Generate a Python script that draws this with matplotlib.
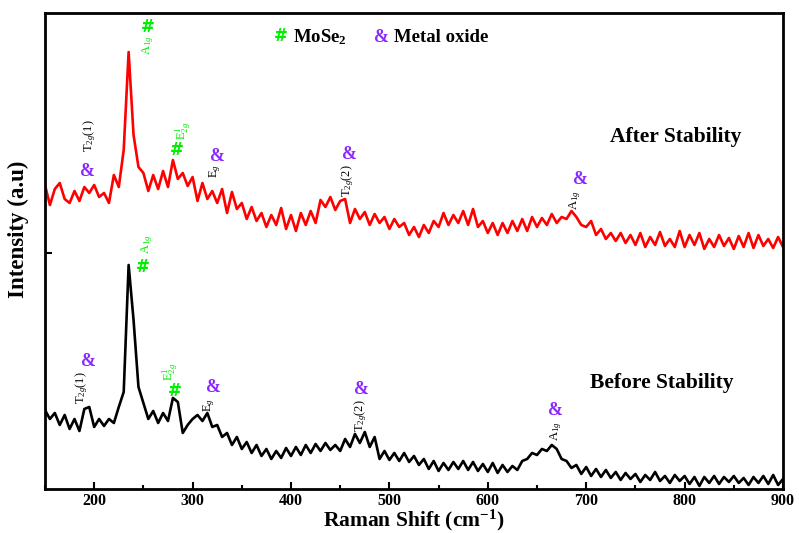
import numpy as np
import matplotlib
matplotlib.use("Agg")
import matplotlib.pyplot as plt
from matplotlib.ticker import MultipleLocator

plt.rcParams['font.family'] = ['Liberation Serif', 'DejaVu Serif']
plt.rcParams['mathtext.fontset'] = 'custom'
plt.rcParams['mathtext.rm'] = 'Liberation Serif'
plt.rcParams['mathtext.it'] = 'Liberation Serif:italic'
plt.rcParams['mathtext.bf'] = 'Liberation Serif:bold'

# Raman shift grid (cm-1), 5 cm-1 step
shift = np.arange(150, 901, 5)

# after stability (red), arbitrary units
after = [304, 284, 300, 306, 290, 286, 298, 288, 302, 296,
         304, 292, 296, 286, 314, 302, 339, 437, 354, 322,
         316, 298, 314, 300, 318, 302, 329, 310, 316, 303,
         312, 288, 306, 290, 298, 286, 300, 276, 297, 280,
         286, 270, 282, 268, 276, 262, 274, 264, 281, 260,
         274, 258, 276, 264, 278, 266, 289, 282, 292, 279,
         288, 290, 266, 280, 270, 277, 264, 275, 266, 272,
         260, 270, 262, 266, 254, 262, 252, 264, 256, 268,
         262, 276, 264, 274, 266, 278, 264, 280, 262, 268,
         256, 266, 254, 266, 256, 268, 258, 270, 258, 272,
         262, 271, 264, 275, 266, 272, 270, 278, 272, 264,
         262, 268, 254, 260, 250, 256, 248, 256, 246, 254,
         244, 256, 242, 252, 244, 257, 243, 250, 242, 258,
         242, 254, 244, 256, 240, 250, 242, 254, 243, 251,
         240, 253, 242, 256, 241, 254, 243, 250, 241, 252,
         242]

# before stability (black)
before = [79, 70, 76, 64, 74, 60, 70, 58, 80, 82,
          62, 70, 63, 70, 66, 82, 97, 224, 169, 102,
          86, 70, 78, 66, 76, 68, 91, 87, 56, 64,
          70, 74, 68, 76, 62, 64, 52, 56, 44, 52,
          40, 47, 36, 44, 33, 40, 30, 38, 31, 41,
          33, 42, 34, 44, 36, 45, 38, 46, 39, 44,
          38, 50, 42, 55, 46, 57, 42, 52, 30, 38,
          29, 36, 28, 36, 27, 33, 24, 30, 20, 28,
          18, 26, 19, 27, 20, 28, 19, 27, 18, 25,
          17, 26, 16, 24, 17, 23, 19, 28, 30, 36,
          34, 40, 38, 44, 40, 30, 28, 21, 24, 15,
          22, 13, 20, 12, 19, 11, 17, 9, 16, 10,
          15, 7, 14, 9, 17, 8, 13, 6, 14, 8,
          13, 5, 12, 3, 12, 6, 13, 5, 12, 7,
          13, 6, 11, 4, 12, 6, 13, 5, 14, 4,
          10]

purple = '#8c28ff'
green = '#00ee00'

fig, ax = plt.subplots(figsize=(7.99, 5.33), dpi=100)
fig.subplots_adjust(left=0.0563, right=0.98, bottom=0.0826, top=0.9756)

ax.plot(shift, after, color='red', lw=1.9)
ax.plot(shift, before, color='black', lw=1.9)

ax.set_xlim(150, 900)
ax.set_ylim(0, 476)
ax.xaxis.set_major_locator(MultipleLocator(100))
ax.xaxis.set_minor_locator(MultipleLocator(50))
ax.set_yticks([236])
ax.set_yticklabels([])
ax.tick_params(which='both', direction='in', width=1.5)
ax.tick_params(which='major', length=5, labelsize=11.5, pad=3)
ax.tick_params(which='minor', length=3)
for lab in ax.get_xticklabels():
    lab.set_fontweight('bold')
for s in ax.spines.values():
    s.set_linewidth(2)

ax.set_xlabel('Raman Shift (cm$^{\\mathbf{-1}}$)', fontsize=15.5, fontweight='bold', labelpad=-1)
ax.set_ylabel('Intensity (a.u)', fontsize=16.5, fontweight='bold')
ax.yaxis.set_label_coords(-0.021, 0.545)

hash_font = dict(family='DejaVu Sans', fontweight='bold', fontsize=12, color=green)

# legend-like header
ax.text(389.8, 453, '#', ha='center', va='center', **hash_font)
ax.text(402, 452, 'MoSe$_\\mathbf{2}$', fontsize=13.5, fontweight='bold', ha='left', va='center')
ax.text(491.5, 452, '&', color=purple, fontsize=13, fontweight='bold', ha='center', va='center')
ax.text(504.7, 452, 'Metal oxide', fontsize=13.5, fontweight='bold', ha='left', va='center')


def hash_mark(x, y):
    ax.text(x, y, '#', ha='center', va='center', **hash_font)


def amp_mark(x, y):
    ax.text(x, y, '&', color=purple, fontsize=13, fontweight='bold', ha='center', va='center')


def mode(x, y, s, c='black'):
    ax.text(x, y, s, color=c, fontsize=9, rotation=90, ha='center', va='bottom')


# after stability peaks
hash_mark(254.7, 462)
mode(254.7, 434, 'A$_{1g}$', green)
mode(195.7, 337, 'T$_{2g}$(1)')
amp_mark(192.7, 317)
hash_mark(284, 339)
mode(291, 349, 'E$^{1}_{2g}$', green)
amp_mark(324.8, 332)
mode(323, 311, 'E$_{g}$')
amp_mark(459, 334)
mode(458, 292, 'T$_{2g}$(2)')
amp_mark(693.7, 309)
mode(688.6, 279, 'A$_{1g}$')
ax.text(724, 352, 'After Stability', fontsize=15.5, fontweight='bold', ha='left', va='center')

# before stability peaks
mode(254, 235, 'A$_{1g}$', green)
hash_mark(249.6, 222)
amp_mark(193.7, 127)
mode(187.6, 85, 'T$_{2g}$(1)')
hash_mark(282, 98)
mode(277, 108, 'E$^{1}_{2g}$', green)
amp_mark(320.7, 101)
mode(316.7, 77, 'E$_{g}$')
amp_mark(472, 99)
mode(471, 57, 'T$_{2g}$(2)')
amp_mark(669, 78)
mode(669, 48, 'A$_{1g}$')
ax.text(704, 106, 'Before Stability', fontsize=15.5, fontweight='bold', ha='left', va='center')

plt.savefig('out.png', dpi=100)
